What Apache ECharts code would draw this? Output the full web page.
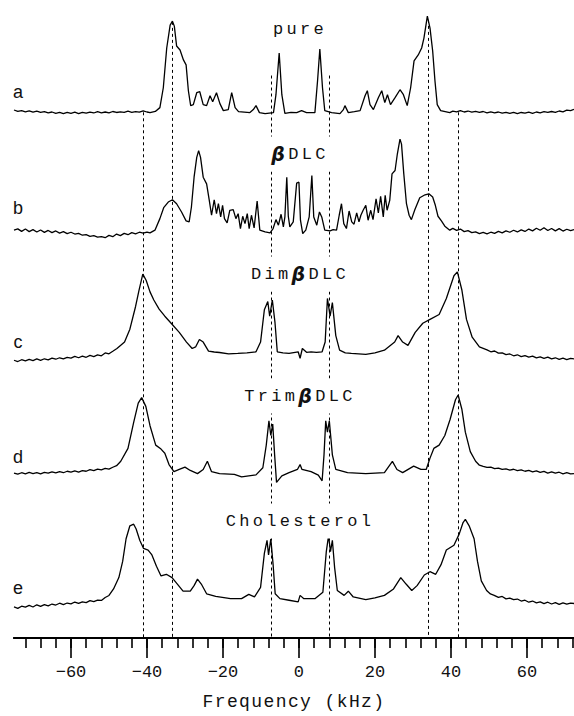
<!DOCTYPE html>
<html>
<head>
<meta charset="utf-8">
<script src="https://cdn.jsdelivr.net/npm/echarts@6/dist/echarts.min.js"></script>
<style>
  html, body { margin: 0; padding: 0; background: #fff; }
  #chart { width: 574px; height: 716px; }
</style>
</head>
<body>
<div id="chart"></div>
<script>
// each spectrum: [frequency (kHz), intensity above its own baseline]
const pure = [
  [-75,2.6],[-74,1.2],[-73,2.0],[-72,0.8],[-71,1.8],[-70,0.5],[-69,1.4],[-68,0.2],[-67,1.0],[-66,-0.3],[-65,0.6],[-64,-0.8],[-63,0.2],[-62,-1.0],[-61,0.3],[-60,-0.7],[-59,0.4],[-58,-1.1],[-57,0.2],[-56,-0.6],[-55,0.5],[-54,-0.4],[-53,0.9],[-52,-0.2],[-51,0.6],[-50,-0.3],[-49,1.1],[-48,0.1],[-47,0.8],[-46,0.3],[-45,1.4],[-44,0.2],[-43,1.0],[-42,0.4],[-41,1.8],[-40,0.6],[-39.2,0],[-37.8,1.2],
  [-36.6,5],[-35.7,25],[-34.8,65],[-33.9,88],[-33.3,92],[-32.8,87],[-32.2,67],[-31.3,63],[-30.4,53],[-29.7,48],[-29.1,22],[-28.5,7],[-27.8,8],[-26.9,20],[-26.1,21],[-25.2,8],[-24.3,7],[-23.4,17],[-22.7,11],[-21.7,20],[-20.8,9],[-19.9,2],[-18.6,3],[-17.7,20],[-16.8,5],[-15.9,1],[-14.4,0.5],[-12.9,0],[-12.0,3],[-11.3,7],[-10.4,0],[-8.9,-1],[-6.7,0],[-6.05,18],[-5.2,60],[-4.5,18],[-3.7,-0.7],[-2.1,0.3],[-0.6,0],[0.7,2],[2.0,0],[4.2,0],[4.9,32],[5.5,64],[6.2,25],[6.8,2],[8.6,0],[10.8,-1],[11.7,3],[12.1,7],[13.0,0],[14.6,1],[16.1,2],[17.4,17],[18.0,22],[18.7,8],[19.6,3],[20.9,15],[21.8,22],[22.6,10],[23.3,18],[24.1,8],[25.3,15],[26.6,23],[27.5,18],[28.5,7],[29.4,25],[30.3,52],[31.4,58],[32.3,65],[32.9,75],[33.8,97],[34.5,85],[35.2,62],[35.8,32],[36.4,8],[37.3,2],[38.5,1],[39.7,0],
  [40.5,1.5],[41.5,0.8],[42.5,2.0],[43.5,0.6],[44.5,1.6],[45.5,0.4],[46.5,1.2],[47.5,0.2],[48.5,1.1],[49.5,-0.2],[50.5,0.7],[51.5,-0.4],[52.5,0.6],[53.5,-0.6],[54.5,0.3],[55.5,-0.9],[56.5,0.2],[57.5,-1.0],[58.5,0.1],[59.5,-0.6],[60.5,0.4],[61.5,-0.7],[62.5,0.6],[63.5,-0.2],[64.5,1.0],[65.5,0.2],[66.5,1.1],[67.5,0.3],[68.5,1.6],[69.5,0.8],[70.5,2.4],[71.5,1.9],[72.4,3.2]
];
const bDLC = [
  [-75,2.7],[-74,4.0],[-73,1.5],[-72,3.8],[-71,1.2],[-70,3.2],[-69,0.8],[-68,2.9],[-67,0.5],[-66,2.4],[-65,0.2],[-64,1.9],[-63,-0.3],[-62,1.2],[-61,-0.8],[-60,0.6],[-59,-1.2],[-58,-0.6],[-57,-2.4],[-56,-1.8],[-55,-3.5],[-54,-2.9],[-53,-4.3],[-52,-3.8],[-51,-4.9],[-50,-2.6],[-49,-3.9],[-48,-1.2],[-47,-2.8],[-46,-0.6],[-45,-1.9],[-44,0.2],[-43,-1.0],[-42,0.6],[-41,-0.4],[-40,0.8],
  [-39.2,0],[-37.9,2.7],[-36.6,14.3],[-35.6,25.3],[-34.4,31],[-33.3,33.3],[-32.2,29.3],[-30.9,21],[-29.7,12],[-28.9,11],[-28.3,26],[-27.6,56],[-26.9,76],[-26.4,82.7],[-25.9,76],[-25.2,56],[-24.3,49.3],[-23.6,32.7],[-23.0,17.7],[-22.3,33.3],[-21.7,19.3],[-21.2,29.3],[-20.6,16],[-20.1,27.7],[-19.6,14.3],[-18.9,10],[-18.2,22.7],[-17.3,23.3],[-16.6,14.3],[-16.0,19.3],[-15.4,4.3],[-14.8,16.7],[-14.2,9.3],[-13.6,19.3],[-13.1,4.3],[-12.5,17.7],[-11.8,5],[-11.0,32],[-10.3,2.7],[-8.9,1],[-7.6,0],[-6.8,4.3],[-6.05,13.3],[-5.4,7.7],[-4.7,18.7],[-4.1,6],[-3.7,16],[-3.2,56],[-2.8,16.7],[-2.4,6],[-1.5,11],[-0.6,50],[0.0,51],[0.4,12.7],[1.0,-0.7],[1.8,2.7],[2.7,16],[3.4,57.7],[3.9,16],[4.7,7.7],[5.4,21],[6.0,16],[6.8,2.7],[8.2,2],[9.0,3.3],[9.9,2.7],[10.6,17.7],[11.2,29.3],[11.8,9.3],[12.5,4.3],[13.2,22],[13.9,11],[14.5,8.7],[15.2,20],[15.8,11],[16.3,17.7],[16.9,22.7],[17.6,27.7],[18.2,12.7],[18.9,22.7],[19.5,13.3],[20.3,34.3],[20.9,20],[21.5,36.7],[22.2,16],[22.7,37.7],[23.2,22.7],[23.9,32.7],[24.5,59.3],[25.3,62.7],[25.9,79.3],[26.6,94.3],[27.0,89.3],[27.6,59.3],[28.3,29.3],[29.0,17.7],[29.6,13.3],[30.5,23.3],[31.8,35.3],[33.2,38.3],[34.2,39.3],[35.2,36],[35.9,27.7],[36.6,16.7],[37.5,12],[38.4,6.7],[39.7,2.7],
  [40.5,4.5],[41.5,2.5],[42.5,3.8],[43.5,1.2],[44.5,2.2],[45.5,0.2],[46.5,1.0],[47.5,-0.8],[48.5,0.4],[49.5,-1.0],[50.5,0.6],[51.5,-0.6],[52.5,1.4],[53.5,0.0],[54.5,2.0],[55.5,0.6],[56.5,2.6],[57.5,0.9],[58.5,3.0],[59.5,1.4],[60.5,3.8],[61.5,2.0],[62.5,4.6],[63.5,2.6],[64.5,5.2],[65.5,2.4],[66.5,4.4],[67.5,2.0],[68.5,4.2],[69.5,1.8],[70.5,3.6],[71.5,2.2],[72.4,3.3]
];
const dimbDLC = [
  [-75,0.5],[-74,-0.8],[-73,1.0],[-72,-0.2],[-71,1.4],[-70,0.2],[-69,1.8],[-68,0.4],[-67,2.0],[-66,0.9],[-65,2.6],[-64,1.5],[-63,3.0],[-62,1.8],[-61,3.4],[-60,2.6],[-59,4.3],[-58,3.0],[-57,4.6],[-56,3.5],[-55,5.4],[-54,4.2],[-53,5.8],[-52,5.0],[-51,7.8],[-50,7.0],[-49,9.5],
  [-47.9,12.3],[-45.9,18.8],[-44.5,31.8],[-43.0,54.6],[-42.1,70.9],[-41.1,87.2],[-40.2,80.7],[-39.2,69.3],[-38.2,61.1],[-36.8,52],[-35.3,44.8],[-33.4,36.7],[-31.5,28.5],[-29.6,18.8],[-28.1,12.3],[-27.2,13.9],[-26.2,21.4],[-25.2,18.8],[-23.8,9.6],[-22.3,8.8],[-20.9,8.3],[-18.5,7.0],[-16.1,7.4],[-13.7,8.0],[-11.3,9],[-10.1,18.8],[-9.1,51.3],[-8.2,59.5],[-7.7,44.8],[-7.0,61.1],[-6.3,38.3],[-5.7,9],[-4.2,8.0],[-2.6,7.4],[-1.4,8.2],[-0.2,9],[0.3,2.5],[0.9,12.3],[2.0,8.5],[3.2,9],[4.6,8.5],[6.1,9],[6.9,18.8],[7.5,62.7],[8.2,44.8],[8.8,58.5],[9.7,25.3],[10.7,10.6],[12.2,8.0],[13.8,7.4],[15.7,7.0],[17.6,6.4],[20,8.0],[22.5,10.6],[25.2,18.8],[26.1,25.3],[27.3,18.8],[28.7,15.5],[30.6,28.5],[32.6,37.7],[34.5,41.6],[36.9,46.5],[38.8,62.7],[40.8,85.5],[41.7,89.4],[42.9,70.9],[44.1,41.6],[45.6,23.7],[47.5,13.9],
  [49.5,11.0],[50.5,9.0],[51.5,9.8],[52.5,7.6],[53.5,8.0],[54.5,6.2],[55.5,6.8],[56.5,5.0],[57.5,6.0],[58.5,4.2],[59.5,5.2],[60.5,3.6],[61.5,4.6],[62.5,2.8],[63.5,3.8],[64.5,2.4],[65.5,3.6],[66.5,1.8],[67.5,3.0],[68.5,1.4],[69.5,2.6],[70.5,1.2],[71.5,2.4],[72.4,1.8]
];
const trimbDLC = [
  [-75,0.5],[-74,-0.6],[-73,0.9],[-72,-0.2],[-71,1.3],[-70,0.1],[-69,1.0],[-68,-0.3],[-67,1.2],[-66,0.4],[-65,1.8],[-64,0.8],[-63,2.0],[-62,0.9],[-61,2.4],[-60,1.5],[-59,2.8],[-58,1.6],[-57,3.0],[-56,2.4],[-55,4.0],[-54,3.1],[-53,4.6],[-52,3.8],[-51,5.2],[-50,4.6],[-49,6.4],[-48,8.0],
  [-46.9,12.4],[-45.0,25.4],[-43.5,51.5],[-42.3,71],[-41.4,76.5],[-40.3,67.7],[-39.2,48.2],[-37.7,28.7],[-36.3,24.7],[-35.3,20.5],[-34.2,9.1],[-32.9,2],[-31.5,4.2],[-30.0,6.5],[-28.6,3.2],[-26.7,0],[-25.2,4.2],[-24.1,12.4],[-23.0,2],[-20.9,0],[-17.0,-0.7],[-15.1,-3.3],[-11.3,-1.3],[-9.5,5.9],[-8.6,28.7],[-7.9,53.1],[-7.4,38.4],[-6.9,49.8],[-6.4,18.9],[-5.9,-8.8],[-4.5,-2.3],[-2.6,1],[-0.4,4.2],[0.3,9.1],[0.8,4.2],[3.2,2],[5.1,-1.5],[6.1,-7.2],[6.6,18.9],[7.05,53.1],[7.5,41.7],[8.0,53.1],[8.8,18.9],[9.7,4.2],[12.8,1],[17.6,0],[22.5,1],[24.6,12.4],[25.8,4.2],[27.3,1],[30.2,7.5],[32.1,4.2],[33.5,4.2],[34.5,15.6],[35.5,25.4],[36.9,28.7],[38.4,38.4],[39.8,54.7],[41.2,74.3],[41.9,79.1],[42.9,64.5],[43.8,41.7],[45.1,22.2],[46.5,12.4],
  [47.5,8.5],[48.5,7.2],[49.5,6.2],[50.5,6.6],[51.5,5.0],[52.5,5.6],[53.5,4.2],[54.5,4.8],[55.5,3.6],[56.5,4.4],[57.5,3.0],[58.5,3.8],[59.5,2.4],[60.5,3.2],[61.5,1.8],[62.5,2.8],[63.5,1.2],[64.5,2.2],[65.5,0.6],[66.5,1.8],[67.5,0.4],[68.5,1.4],[69.5,-0.2],[70.5,1.0],[71.5,-0.3],[72.4,0]
];
const cholesterol = [
  [-75,0.5],[-74,-1.0],[-73,1.2],[-72,0.2],[-71,2.0],[-70,0.4],[-69,2.6],[-68,1.0],[-67,2.8],[-66,1.6],[-65,3.4],[-64,2.4],[-63,4.2],[-62,2.8],[-61,4.4],[-60,3.6],[-59,5.4],[-58,4.0],[-57,5.6],[-56,4.8],[-55,6.8],[-54,5.8],[-53,7.4],[-52,7.0],[-51,10.0],[-50,12.0],
  [-48.8,18.6],[-47.4,30],[-46.4,46.3],[-45.5,69.1],[-44.5,82.1],[-43.5,83.7],[-42.85,78.9],[-41.9,67.5],[-40.9,59.3],[-39.7,57.7],[-38.7,52.8],[-37.5,41.4],[-36.3,31.6],[-34.9,33.3],[-33.4,30],[-32.0,23.5],[-30.5,16.3],[-28.6,16.3],[-27.6,21.9],[-26.7,28.4],[-25.7,23.5],[-24.3,13.7],[-21.9,11.1],[-18.0,8.8],[-15.1,8.8],[-13.2,13.1],[-11.7,10.5],[-10.1,20.2],[-9.1,54.4],[-8.4,67.5],[-8.0,52.8],[-7.4,69.1],[-6.8,43],[-6.25,13.7],[-5.0,8.8],[-2.6,7.2],[-0.2,5.6],[0.3,12.1],[1.3,8.8],[4.2,8.8],[6.3,15.3],[7.2,56.1],[7.8,72.3],[8.3,56.1],[8.8,67.5],[9.4,39.8],[10.1,17],[11.9,12.1],[13.0,16.3],[14.3,10.5],[17.6,7.9],[20,9.5],[22.5,12.1],[24.9,18.6],[26.8,30],[28.2,23.5],[29.7,17],[31.1,21.9],[33.0,32.6],[34.5,35.9],[36.0,33.3],[37.4,43],[38.8,57.7],[40.8,62.6],[42.2,74],[43.2,85.4],[43.8,88.6],[44.8,82.1],[46.1,69.1],[47.0,46.3],[48.0,26.7],[49.4,17],
  [50.4,13.5],[51.4,12.1],[52.5,10.0],[53.5,11.0],[54.5,8.6],[55.5,9.4],[56.5,7.8],[57.5,8.4],[58.5,6.4],[59.5,7.2],[60.5,5.2],[61.5,6.4],[62.5,4.6],[63.5,5.6],[64.5,3.8],[65.5,5.2],[66.5,3.4],[67.5,4.8],[68.5,3.0],[69.5,4.6],[70.5,3.2],[71.5,4.4],[72.4,3.9]
];

const specNames = ['pure', 'βDLC', 'DimβDLC', 'TrimβDLC', 'Cholesterol'];
const rowLetters = ['a', 'b', 'c', 'd', 'e'];
// reference frequencies of the dashed guide lines and the height where each starts
const guideFreq = [-41, -33.3, -7.4, 8, 34, 41.9];
const guideTop = [529, 620, 566, 566, 622, 529];
const minorTicks = [-72,-68,-64,-60,-56,-52,-48,-44,-40,-36,-32,-28,-24,-20,-16,-12,-8,-4,0,4,8,12,16,20,24,28,32,36,40,44,48,52,56,60,64,68,72];
const majorTicks = [-60, -40, -20, 0, 20, 40, 60];
const axisTitle = 'Frequency (kHz)';

// layout: vertical offset of each trace (y units = px above the axis)
const offsets = [528.7, 407.7, 279, 165.4, 30.8];
const nameY = [29, 154, 274, 396, 521];
const letterY = [92, 208, 342, 457, 588];

const spectra = [pure, bDLC, dimbDLC, trimbDLC, cholesterol];
const chart = echarts.init(document.getElementById('chart'), null, { renderer: 'svg' });

const series = spectra.map((pts, i) => ({
  type: 'line',
  data: pts.map(p => [p[0], offsets[i] + p[1]]),
  symbol: 'none',
  silent: true,
  lineStyle: { color: '#000', width: 1.3 },
  z: 3
}));
series[4].markLine = {
  silent: true,
  symbol: ['none', 'none'],
  label: { show: false },
  lineStyle: { color: '#000', width: 1, type: [3, 3] },
  data: guideFreq.map((f, i) => [{ coord: [f, guideTop[i]] }, { coord: [f, 0] }])
};

const monoFont = '"Liberation Mono", "DejaVu Sans Mono", monospace';

chart.setOption({
  animation: false,
  backgroundColor: '#fff',
  grid: { left: 14, right: 0, top: 0, bottom: 74 },
  xAxis: [
    {
      type: 'value', min: -75, max: 72.4, position: 'bottom',
      axisLine: { show: true, lineStyle: { color: '#000', width: 2 } },
      axisTick: { show: true, customValues: minorTicks, length: 10, lineStyle: { color: '#000', width: 1.6 } },
      axisLabel: { show: false },
      splitLine: { show: false }
    },
    {
      type: 'value', min: -75, max: 72.4, position: 'bottom',
      axisLine: { show: true, lineStyle: { color: '#000', width: 2 } },
      axisTick: { show: true, customValues: majorTicks, length: 20, lineStyle: { color: '#000', width: 1.6 } },
      axisLabel: {
        show: true, customValues: majorTicks, margin: 26,
        fontFamily: monoFont, fontSize: 17, color: '#111',
        formatter: v => String(v).replace('-', '\u2212')
      },
      splitLine: { show: false },
      name: axisTitle, nameLocation: 'middle', nameGap: 55,
      nameTextStyle: { fontFamily: monoFont, fontSize: 18, color: '#111' }
    }
  ],
  yAxis: { type: 'value', min: 0, max: 642, show: false },
  graphic: [
    ...specNames.map((t, i) => ({
      type: 'text', x: 300, y: nameY[i], z: 100,
      style: {
        text: t, font: '17px ' + monoFont, fill: '#111',
        align: 'center', verticalAlign: 'middle', textAlign: 'center', textVerticalAlign: 'middle',
        backgroundColor: '#fff', padding: [9, 18]
      }
    })),
    ...rowLetters.map((t, i) => ({
      type: 'text', x: 18, y: letterY[i], z: 100,
      style: {
        text: t, font: '18px "Liberation Sans", sans-serif', fill: '#111',
        align: 'center', verticalAlign: 'middle', textAlign: 'center', textVerticalAlign: 'middle'
      }
    }))
  ],
  series: series
});

// spaced-out plotter lettering and the bold italic beta
function tweakText() {
  document.querySelectorAll('#chart text').forEach(t => {
    if (t.getAttribute('data-done')) return;
    const s = t.textContent;
    if (specNames.includes(s)) t.style.letterSpacing = '3.3px';
    else if (s === axisTitle) t.style.letterSpacing = '1.4px';
    else return;
    t.setAttribute('data-done', '1');
    if (s.includes('β')) {
      const parts = s.split('β');
      t.textContent = '';
      t.appendChild(document.createTextNode(parts[0]));
      const b = document.createElementNS('http://www.w3.org/2000/svg', 'tspan');
      b.style.fontStyle = 'italic';
      b.style.fontWeight = 'bold';
      b.style.fontFamily = '"DejaVu Sans", sans-serif';
      b.style.fontSize = '19px';
      b.textContent = 'β';
      t.appendChild(b);
      t.appendChild(document.createTextNode(parts[1]));
    }
  });
}
tweakText();
chart.on('finished', tweakText);
</script>
</body>
</html>
